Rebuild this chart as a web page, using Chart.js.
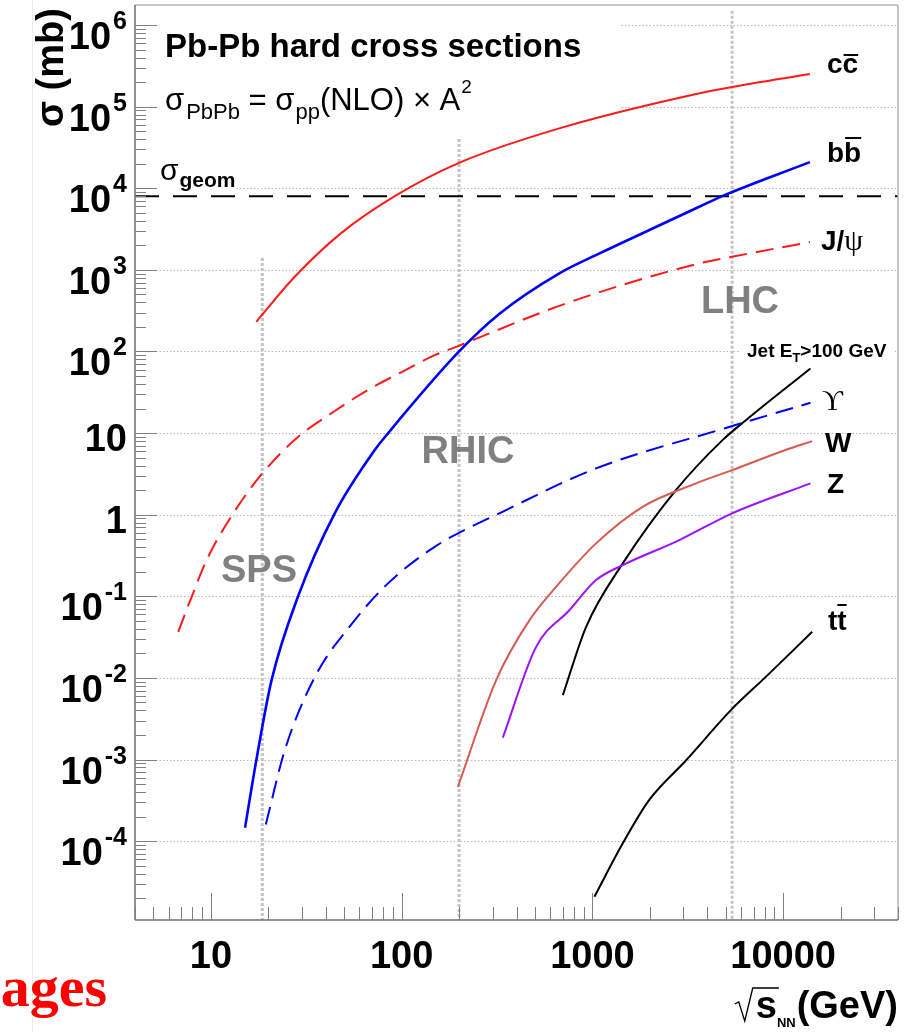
<!DOCTYPE html>
<html>
<head>
<meta charset="utf-8">
<script src="https://cdn.jsdelivr.net/npm/chart.js@4.4.1/dist/chart.umd.min.js"></script>
<style>
  html, body { margin: 0; padding: 0; background: #fff; }
  #wrap { width: 910px; height: 1032px; position: relative; }
</style>
</head>
<body>
<div id="wrap"><canvas id="xsec"></canvas></div>
<script>
// sqrt(s_NN) in GeV, cross sections in mb (pp NLO scaled by A^2)
const ccX = [17.3, 27.5, 48, 92, 197, 670, 3600, 5400, 13800];
const ccY = [231, 822, 2800, 8000, 20200, 54200, 145000, 174000, 251000];

const bbX = [15.1, 17.3, 20.8, 28.6, 44.6, 72.3, 85, 200, 326, 671, 1090, 1990, 3630, 4790, 13800];
const bbY = [1.46e-4, 9.8e-4, 9.4e-3, 0.099, 1.04, 6.2, 10, 100, 290, 906, 1590, 3080, 5930, 8000, 20900];

const jpsiX = [6.74, 7.93, 9.5, 13.1, 18.6, 28.5, 43, 66.3, 100, 149, 193, 728, 3630, 5400, 13800];
const jpsiY = [0.0367, 0.0986, 0.278, 1.04, 3.2, 8.9, 17.6, 33.6, 56, 90, 114, 388, 1200, 1448, 2190];

const upsX = [19.4, 24.4, 35.1, 56.8, 84.8, 149, 353, 1045, 4910, 13900];
const upsY = [1.6e-4, 1.3e-3, 0.0103, 0.051, 0.144, 0.404, 1.14, 3.69, 11.4, 23.5];

const wX = [197, 313, 468, 646, 1045, 1833, 3490, 5400, 10300, 14200];
const wY = [4.6e-4, 9.4e-3, 0.051, 0.131, 0.445, 1.25, 2.42, 3.52, 6.2, 7.98];

const zX = [339, 507, 759, 1045, 1443, 2858, 5400, 13900];
const zY = [1.85e-3, 0.024, 0.068, 0.158, 0.241, 0.489, 1.04, 2.42];

const jetX = [700, 927, 1443, 2740, 4810, 6380, 13900];
const jetY = [6.15e-3, 0.0423, 0.253, 2.0, 8.2, 14.4, 62];

const ttX = [1024, 1443, 1986, 3100, 5320, 8110, 14200];
const ttY = [2.08e-5, 9.4e-5, 3.2e-4, 9.8e-4, 4.03e-3, 0.0103, 0.0367];

// geometric Pb-Pb cross section
const sigmaGeom = 8000;

// collider energies (vertical markers) and how high each marker reaches
const regionX = [18.6, 200, 5400];
const regionTop = [1400, 40000, 1.5e6];
const regionNames = ['SPS', 'RHIC', 'LHC'];

const xMin = 4, xMax = 40000;
const yMin = 1.08e-5, yMax = 1.76e6;

const xTickLabels = ['10', '100', '1000', '10000'];
const yTickLabels = ['10^-4', '10^-3', '10^-2', '10^-1', '1', '10', '10^2', '10^3', '10^4', '10^5', '10^6'];

const SANS = '"Liberation Sans", Arial, Helvetica, sans-serif';
const SERIF = '"Liberation Serif", "DejaVu Serif", serif';

const pts = (xs, ys) => xs.map((v, i) => ({ x: v, y: ys[i] }));

function curve(label, xs, ys, color, width, dash) {
  return {
    label: label,
    data: pts(xs, ys),
    borderColor: color,
    borderWidth: width,
    borderDash: dash || [],
    pointRadius: 0,
    fill: false,
    cubicInterpolationMode: 'monotone'
  };
}

const datasets = [
  curve('cc', ccX, ccY, '#ff1a1a', 2),
  curve('bb', bbX, bbY, '#0000ff', 2.6),
  curve('J/psi', jpsiX, jpsiY, '#ff1a1a', 2, [18, 9]),
  curve('Upsilon', upsX, upsY, '#0000ff', 2, [18, 9]),
  curve('W', wX, wY, '#d55a52', 2),
  curve('Z', zX, zY, '#9a12ff', 2),
  curve('Jet', jetX, jetY, '#000000', 2),
  curve('tt', ttX, ttY, '#000000', 2),
  {
    label: 'sigma_geom',
    data: [{ x: xMin, y: sigmaGeom }, { x: xMax, y: sigmaGeom }],
    borderColor: '#000', borderWidth: 2, borderDash: [24, 14],
    pointRadius: 0, fill: false
  }
];

regionNames.forEach((name, i) => {
  datasets.push({
    label: name,
    data: [{ x: regionX[i], y: regionTop[i] }, { x: regionX[i], y: yMin }],
    borderColor: '#c4c4c4', borderWidth: 3, borderDash: [3, 2],
    pointRadius: 0, fill: false
  });
});

function text(ctx, s, x, y, font, color, align) {
  ctx.font = font;
  ctx.fillStyle = color || '#000';
  ctx.textAlign = align || 'left';
  ctx.textBaseline = 'alphabetic';
  ctx.fillText(s, x, y);
  return ctx.measureText(s).width;
}

function seg(ctx, x1, y1, x2, y2) {
  ctx.beginPath();
  ctx.moveTo(x1, y1);
  ctx.lineTo(x2, y2);
  ctx.stroke();
}

const rootFrame = {
  id: 'rootFrame',
  beforeDatasetsDraw(chart) {
    const { ctx, chartArea: a } = chart;
    const ys = chart.scales.y;
    ctx.save();
    // dotted grid at each decade
    ctx.strokeStyle = '#b8b8b8';
    ctx.lineWidth = 1;
    ctx.setLineDash([1.5, 2]);
    for (let e = -4; e <= 6; e++) {
      const py = Math.round(ys.getPixelForValue(Math.pow(10, e))) + 0.5;
      seg(ctx, a.left, py, a.right, py);
    }
    ctx.setLineDash([]);
    // white panels under the captions
    ctx.fillStyle = '#fff';
    ctx.fillRect(160, 14, 460, 104);
    ctx.fillRect(157, 158, 78, 32);
    ctx.fillRect(740, 338, 155, 24);
    ctx.restore();
  },
  afterDraw(chart) {
    const { ctx, chartArea: a } = chart;
    const xs = chart.scales.x, ys = chart.scales.y;
    ctx.save();

    // thin page edge on the left
    ctx.strokeStyle = '#ececec';
    ctx.lineWidth = 1;
    seg(ctx, 32.5, 0, 32.5, 1032);

    // frame
    ctx.lineWidth = 1.5;
    ctx.strokeStyle = '#b4b4b4';
    seg(ctx, a.left, a.top, a.right, a.top);
    seg(ctx, a.right, a.top, a.right, a.bottom);
    ctx.strokeStyle = '#6e6e6e';
    seg(ctx, a.left, a.top, a.left, a.bottom);
    seg(ctx, a.left, a.bottom, a.right, a.bottom);

    // tick marks, pointing into the pad
    ctx.lineWidth = 1;
    ctx.strokeStyle = '#808080';
    for (let e = -5; e <= 6; e++) {
      for (let k = 1; k <= 9; k++) {
        const v = k * Math.pow(10, e);
        if (v < yMin || v > yMax) continue;
        const py = Math.round(ys.getPixelForValue(v)) + 0.5;
        seg(ctx, a.left, py, a.left + (k === 1 ? 22 : 11), py);
      }
    }
    for (let e = 0; e <= 4; e++) {
      for (let k = 1; k <= 9; k++) {
        const v = k * Math.pow(10, e);
        if (v < xMin || v > xMax) continue;
        const px = Math.round(xs.getPixelForValue(v)) + 0.5;
        seg(ctx, px, a.bottom, px, a.bottom - (k === 1 ? 27 : 13));
      }
    }

    // y tick labels
    const baseFont = 'bold 38px ' + SANS;
    const expFont = 'bold 25px ' + SANS;
    yTickLabels.forEach(lbl => {
      const parts = lbl.split('^');
      const v = parts.length > 1 ? Math.pow(10, Number(parts[1])) : Number(parts[0]);
      const py = ys.getPixelForValue(v);
      if (parts.length > 1) {
        ctx.font = expFont;
        const w = ctx.measureText(parts[1]).width;
        text(ctx, parts[1], 127, py + 4, expFont, '#000', 'right');
        text(ctx, parts[0], 127 - w - 2, py + 24, baseFont, '#000', 'right');
      } else {
        text(ctx, parts[0], 127, py + 18, baseFont, '#000', 'right');
      }
    });

    // x tick labels
    xTickLabels.forEach(lbl => {
      const px = xs.getPixelForValue(Number(lbl));
      text(ctx, lbl, px, 968, baseFont, '#000', 'center');
    });

    // y axis title
    ctx.save();
    ctx.translate(63, 127);
    ctx.rotate(-Math.PI / 2);
    text(ctx, 'σ (mb)', 0, 0, 'bold 38px ' + SANS, '#000', 'left');
    ctx.restore();

    // x axis title: sqrt(s_NN)(GeV)
    let rx = 898;
    rx -= text(ctx, '(GeV)', rx, 1018, 'bold 38px ' + SANS, '#000', 'right');
    rx -= text(ctx, 'NN', rx - 1, 1027, 'bold 13px ' + SANS, '#000', 'right') + 1;
    const sw = text(ctx, 's', rx, 1018, 'bold 38px ' + SANS, '#000', 'right');
    const sx = rx - sw;
    ctx.strokeStyle = '#000';
    ctx.lineWidth = 1.3;
    ctx.beginPath();
    ctx.moveTo(sx - 21, 1004);
    ctx.lineTo(sx - 17, 1002);
    ctx.lineTo(sx - 11, 1021);
    ctx.lineTo(sx - 3, 988);
    ctx.lineTo(rx + 2, 988);
    ctx.stroke();

    // headline and formula
    text(ctx, 'Pb-Pb hard cross sections', 165, 57, 'bold 33px ' + SANS);
    let fx = 165;
    fx += text(ctx, 'σ', fx, 110, '31px ' + SANS);
    fx += text(ctx, 'PbPb', fx + 2, 119, '22px ' + SANS) + 2;
    fx += text(ctx, ' = ', fx, 110, '31px ' + SANS);
    fx += text(ctx, 'σ', fx, 110, '31px ' + SANS);
    fx += text(ctx, 'pp', fx + 1, 119, '22px ' + SANS) + 1;
    fx += text(ctx, '(NLO) × A', fx, 110, '31px ' + SANS);
    text(ctx, '2', fx + 1, 93, '19px ' + SANS);

    // sigma_geom caption
    const gw = text(ctx, 'σ', 160, 180, '30px ' + SANS);
    text(ctx, 'geom', 160 + gw + 1, 187, 'bold 21px ' + SANS);

    // region captions
    const grey = '#808080';
    text(ctx, 'SPS', 259, 582, 'bold 38px ' + SANS, grey, 'center');
    text(ctx, 'RHIC', 468, 463, 'bold 38px ' + SANS, grey, 'center');
    text(ctx, 'LHC', 740, 313, 'bold 38px ' + SANS, grey, 'center');

    // curve captions
    const lab = 'bold 28px ' + SANS;
    ctx.strokeStyle = '#000';
    ctx.lineWidth = 2;
    let w1 = text(ctx, 'c', 827, 73, lab);
    let w2 = text(ctx, 'c', 827 + w1, 73, lab);
    seg(ctx, 827 + w1 + 1, 55, 827 + w1 + w2, 55);
    w1 = text(ctx, 'b', 827, 162, lab);
    w2 = text(ctx, 'b', 827 + w1, 162, lab);
    seg(ctx, 827 + w1 + 1, 138, 827 + w1 + w2, 138);
    const jw = text(ctx, 'J/', 821, 250, lab);
    text(ctx, 'ψ', 821 + jw, 250, '30px ' + SERIF);
    text(ctx, 'ϒ', 822, 410, '29px ' + SERIF);
    text(ctx, 'W', 825, 452, lab);
    text(ctx, 'Z', 827, 493, lab);
    w1 = text(ctx, 't', 828, 630, lab);
    w2 = text(ctx, 't', 828 + w1, 630, lab);
    seg(ctx, 828 + w1, 605, 828 + w1 + w2, 605);

    // jet caption with E_T subscript
    let jx = 747;
    jx += text(ctx, 'Jet E', jx, 357, 'bold 19px ' + SANS);
    jx += text(ctx, 'T', jx, 362, 'bold 13px ' + SANS);
    text(ctx, '>100 GeV', jx, 357, 'bold 19px ' + SANS);

    // stray slide text at the bottom left
    text(ctx, 'ages', 107, 1006, 'bold 58px ' + SERIF, '#ff0000', 'right');

    ctx.restore();
  }
};

new Chart(document.getElementById('xsec'), {
  type: 'line',
  data: { datasets: datasets },
  options: {
    responsive: true,
    maintainAspectRatio: false,
    animation: false,
    events: [],
    layout: { padding: { left: 135, top: 5, right: 12, bottom: 112 } },
    plugins: { legend: { display: false }, tooltip: { enabled: false } },
    scales: {
      x: { type: 'logarithmic', min: xMin, max: xMax, bounds: 'data', display: false },
      y: { type: 'logarithmic', min: yMin, max: yMax, bounds: 'data', display: false }
    }
  },
  plugins: [rootFrame]
});
</script>
</body>
</html>
